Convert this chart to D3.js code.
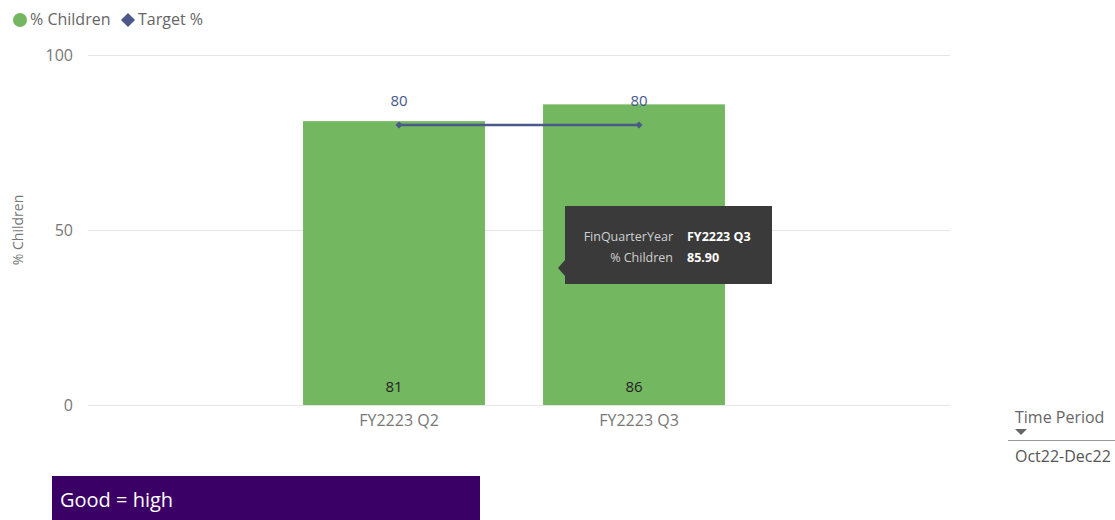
<!DOCTYPE html>
<html>
<head>
<meta charset="utf-8">
<script src="https://cdn.jsdelivr.net/npm/d3@7"></script>
<style>
  body { margin:0; background:#fff; }
  svg text { font-family: "Open Sans", "Noto Sans", sans-serif; }
</style>
</head>
<body>
<div id="chart-area"></div>
<script>
// data
var quarters = ["FY2223 Q2", "FY2223 Q3"];
var pctChildren = [81.1, 85.9];
var targetPct = [80, 80];
var yTicks = [0, 50, 100];

var W = 1115, H = 520;
var margin = { left:88, right:165, top:55, bottom:115 };
var height = H - margin.top - margin.bottom;   // 350
var width = W - margin.left - margin.right;

var svg = d3.select("#chart-area")
    .append("svg")
    .attr("width", W)
    .attr("height", H);

var g = svg.append("g")
    .attr("transform", "translate(" + margin.left + "," + margin.top + ")");

var y = d3.scaleLinear()
    .range([height, 0])
    .domain([0, 100]);

var x = d3.scaleBand()
    .domain(quarters)
    .range([186, 666])
    .paddingInner(0.242)
    .paddingOuter(0.121);

var off = 5;
function diamond(s) {
  return "M0," + (-s) + "L" + s + ",0L0," + s + "L" + (-s) + ",0Z";
}

// gridlines
var yAxisCall = d3.axisLeft(y)
    .tickValues(yTicks)
    .tickSize(-(950 - margin.left))
    .tickPadding(15);
var yAx = g.append("g")
    .attr("class", "y axis")
    .call(yAxisCall);
yAx.select(".domain").remove();
yAx.selectAll(".tick line").attr("stroke", "#e6e6e6");
yAx.selectAll(".tick text")
    .attr("fill", "#777")
    .attr("font-size", "16px");

g.append("text")
    .attr("transform", "rotate(-90)")
    .attr("x", -height / 2)
    .attr("y", -65)
    .attr("text-anchor", "middle")
    .attr("font-size", "14px")
    .attr("fill", "#777")
    .text("% Children");

// bars
g.selectAll("rect.bar").data(quarters)
  .enter()
    .append("rect")
    .attr("class", "bar")
    .attr("x", function(d){ return x(d); })
    .attr("width", x.bandwidth())
    .attr("y", function(d, i){ return y(pctChildren[i]); })
    .attr("height", function(d, i){ return height - y(pctChildren[i]); })
    .attr("fill", "#73b761");

g.selectAll("text.barlabel").data(quarters)
  .enter()
    .append("text")
    .attr("class", "barlabel")
    .attr("x", function(d){ return x(d) + x.bandwidth() / 2; })
    .attr("y", height - 13)
    .attr("text-anchor", "middle")
    .attr("font-size", "15px")
    .attr("fill", "#252423")
    .text(function(d, i){ return d3.format(".0f")(pctChildren[i]); });

// x axis labels
var xAxisCall = d3.axisBottom(x).tickSize(0).tickPadding(10);
var xAx = g.append("g")
    .attr("transform", "translate(0," + height + ")")
    .call(xAxisCall);
xAx.select(".domain").remove();
xAx.selectAll(".tick text")
    .attr("dx", off)
    .attr("fill", "#777")
    .attr("font-size", "16px");
g.append("line")
    .attr("x1", 0).attr("x2", 950 - margin.left)
    .attr("y1", height + 0.5).attr("y2", height + 0.5)
    .attr("stroke", "#e6e6e6");

// target line
var line = d3.line()
    .x(function(d, i){ return x(quarters[i]) + x.bandwidth() / 2 + off; })
    .y(function(d){ return y(d); });

g.append("path")
    .datum(targetPct)
    .attr("d", line)
    .attr("fill", "none")
    .attr("stroke", "#4a588a")
    .attr("stroke-width", 2.5);

g.selectAll("path.mark").data(targetPct)
  .enter()
    .append("path")
    .attr("class", "mark")
    .attr("d", diamond(3.5))
    .attr("transform", function(d, i){
      return "translate(" + (x(quarters[i]) + x.bandwidth() / 2 + off) + "," + y(d) + ")";
    })
    .attr("fill", "#4a588a");

g.selectAll("text.tlabel").data(targetPct)
  .enter()
    .append("text")
    .attr("class", "tlabel")
    .attr("x", function(d, i){ return x(quarters[i]) + x.bandwidth() / 2 + off; })
    .attr("y", function(d){ return y(d) - 19; })
    .attr("text-anchor", "middle")
    .attr("font-size", "15px")
    .attr("fill", "#4a588a")
    .text(function(d){ return d; });

// legend
svg.append("circle").attr("cx", 20).attr("cy", 20).attr("r", 7).attr("fill", "#73b761");
svg.append("text").attr("x", 30).attr("y", 25).attr("font-size", "16px").attr("fill", "#666").text("% Children");
svg.append("path")
    .attr("d", diamond(7))
    .attr("transform", "translate(128,20)")
    .attr("fill", "#4a588a");
svg.append("text").attr("x", 138).attr("y", 25).attr("font-size", "16px").attr("fill", "#666").text("Target %");

// tooltip
var tip = svg.append("g").attr("transform", "translate(565,206)");
tip.append("path")
    .attr("d", "M0,54 L-7,62 L0,70 Z")
    .attr("fill", "#3a3a3a");
tip.append("rect")
    .attr("width", 207).attr("height", 78)
    .attr("fill", "#3a3a3a");
tip.append("text").attr("x", 108).attr("y", 35).attr("text-anchor", "end")
    .attr("font-size", "12.5px").attr("fill", "#d0d0d0").text("FinQuarterYear");
tip.append("text").attr("x", 108).attr("y", 56).attr("text-anchor", "end")
    .attr("font-size", "12.5px").attr("fill", "#d0d0d0").text("% Children");
tip.append("text").attr("x", 122).attr("y", 35)
    .attr("font-size", "12.5px").attr("font-weight", "bold").attr("fill", "#fff").text(quarters[1]);
tip.append("text").attr("x", 122).attr("y", 56)
    .attr("font-size", "12.5px").attr("font-weight", "bold").attr("fill", "#fff").text(d3.format(".2f")(pctChildren[1]));

// slicer
svg.append("text").attr("x", 1015).attr("y", 423).attr("font-size", "16px").attr("fill", "#666").text("Time Period");
svg.append("path").attr("d", "M1015,429 L1027,429 L1021,435 Z").attr("fill", "#666");
svg.append("line").attr("x1", 1008).attr("x2", 1115).attr("y1", 440.5).attr("y2", 440.5)
    .attr("stroke", "#999").attr("stroke-width", 1);
svg.append("text").attr("x", 1015).attr("y", 462).attr("font-size", "16px").attr("fill", "#555").text("Oct22-Dec22");

// note box
svg.append("rect").attr("x", 52).attr("y", 476).attr("width", 428).attr("height", 44).attr("fill", "#3b0066");
svg.append("text").attr("x", 60).attr("y", 507).attr("font-size", "20px").attr("fill", "#fff").text("Good = high");
</script>
</body>
</html>
